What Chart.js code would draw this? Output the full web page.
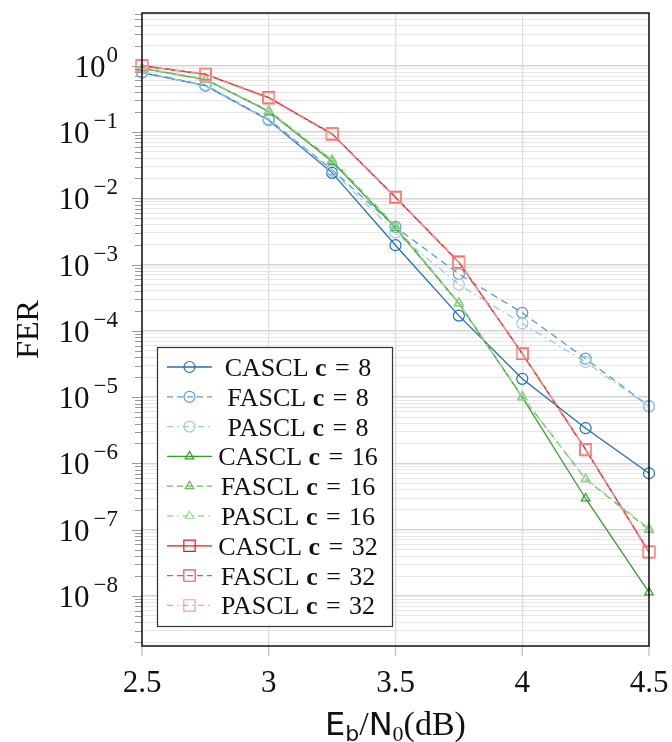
<!DOCTYPE html>
<html>
<head>
<meta charset="utf-8">
<script src="https://cdn.jsdelivr.net/npm/chart.js@4.4.1/dist/chart.umd.min.js"></script>
<style>
  html, body { margin: 0; padding: 0; background: #fff; }
  #wrap { position: relative; width: 672px; height: 742px; }
</style>
</head>
<body>
<div id="wrap"><canvas id="ferChart"></canvas></div>
<script>
// Eb/N0 sweep (dB)
const ebn0 = [2.5, 2.75, 3, 3.25, 3.5, 3.75, 4, 4.25, 4.5];

// frame error rates, list size c = 8
const cascl8 = [0.79, 0.50, 0.151, 0.0242, 0.00196, 0.00017, 1.89e-5, 3.4e-6, 7.1e-7];
const fascl8 = [0.80, 0.51, 0.155, 0.027, 0.0037, 0.00072, 1.87e-4, 3.8e-5, 7.3e-6];
const pascl8 = [0.80, 0.50, 0.152, 0.026, 0.00305, 0.0005, 1.29e-4, 3.4e-5, 7.2e-6];

// c = 16
const cascl16 = [0.91, 0.62, 0.205, 0.036, 0.0036, 0.00026, 1.0e-5, 2.96e-7, 1.13e-8];
const fascl16 = [0.92, 0.63, 0.21, 0.038, 0.0038, 0.000265, 1.02e-5, 5.8e-7, 1.0e-7];
const pascl16 = [0.92, 0.63, 0.21, 0.0376, 0.0037, 0.00026, 1.0e-5, 5.9e-7, 1.05e-7];

// c = 32
const cascl32 = [1.0, 0.74, 0.33, 0.093, 0.0103, 0.00108, 4.56e-5, 1.63e-6, 4.6e-8];
const fascl32 = [1.0, 0.75, 0.33, 0.094, 0.0105, 0.0011, 4.5e-5, 1.6e-6, 4.6e-8];
const pascl32 = [1.0, 0.74, 0.32, 0.092, 0.0102, 0.00107, 4.6e-5, 1.62e-6, 4.7e-8];

const xTicks = [2.5, 3, 3.5, 4, 4.5];
const yExponents = [0, -1, -2, -3, -4, -5, -6, -7, -8];

const serif = '"Liberation Serif", "DejaVu Serif", serif';
const sans = '"DejaVu Sans", "Liberation Sans", sans-serif';

const solid = [];
const dashed = [7, 5];
const dashDot = [7, 4, 1.5, 4];

const series = [
  { name: "CASCL", c: "8",  values: cascl8,  color: "#2171b5", dash: solid,   marker: "circle",   r: 5.5 },
  { name: "FASCL", c: "8",  values: fascl8,  color: "#5b9bd5", dash: dashed,  marker: "circle",   r: 5.5 },
  { name: "PASCL", c: "8",  values: pascl8,  color: "#9ecae1", dash: dashDot, marker: "circle",   r: 5.5 },
  { name: "CASCL", c: "16", values: cascl16, color: "#33a02c", dash: solid,   marker: "triangle", r: 5 },
  { name: "FASCL", c: "16", values: fascl16, color: "#66bb5e", dash: dashed,  marker: "triangle", r: 5 },
  { name: "PASCL", c: "16", values: pascl16, color: "#a1d99b", dash: dashDot, marker: "triangle", r: 5 },
  { name: "CASCL", c: "32", values: cascl32, color: "#e31a1c", dash: solid,   marker: "rect",     r: 8 },
  { name: "FASCL", c: "32", values: fascl32, color: "#f0504a", dash: dashed,  marker: "rect",     r: 8 },
  { name: "PASCL", c: "32", values: pascl32, color: "#fb9a99", dash: dashDot, marker: "rect",     r: 8 },
];

const isDecade = v => Math.abs(Math.log10(v) - Math.round(Math.log10(v))) < 1e-9;

// ticks, labels, frame and legend drawn on top of the chart area
const decor = {
  id: "decor",
  afterDraw(chart) {
    const { ctx, chartArea: a, scales } = chart;
    const xs = scales.x, ys = scales.y;
    ctx.save();

    // outward tick marks
    ctx.lineWidth = 1;
    ctx.strokeStyle = "#999";
    ys.ticks.forEach(t => {
      const y = Math.round(ys.getPixelForValue(t.value)) + 0.5;
      const len = isDecade(t.value) ? 10 : 7;
      ctx.beginPath();
      ctx.moveTo(a.left - len, y);
      ctx.lineTo(a.left, y);
      ctx.stroke();
    });
    ctx.strokeStyle = "#c8c8c8";
    ctx.lineWidth = 1.5;
    xTicks.forEach(v => {
      const x = xs.getPixelForValue(v);
      ctx.beginPath();
      ctx.moveTo(x, a.bottom);
      ctx.lineTo(x, a.bottom + 10);
      ctx.stroke();
    });

    // frame
    ctx.strokeStyle = "#000";
    ctx.lineWidth = 1.4;
    ctx.strokeRect(a.left, a.top, a.right - a.left, a.bottom - a.top);

    // x tick labels
    ctx.fillStyle = "#111";
    ctx.font = "31px " + serif;
    ctx.textAlign = "center";
    ctx.textBaseline = "alphabetic";
    xTicks.forEach(v => {
      ctx.fillText(String(v), xs.getPixelForValue(v), a.bottom + 46);
    });

    // y tick labels: 10 with raised exponent
    yExponents.forEach(e => {
      const y = ys.getPixelForValue(Math.pow(10, e));
      const exp = e === 0 ? "0" : "\u2212" + Math.abs(e);
      ctx.font = "23px " + serif;
      const ew = ctx.measureText(exp).width + (e === 0 ? 0 : 3);
      const right = a.left - 24;
      ctx.textAlign = "right";
      ctx.fillText(exp, right, y - 4);
      ctx.font = "31px " + serif;
      ctx.fillText("10", right - ew - 1, y + 11);
    });

    // axis titles
    ctx.save();
    ctx.translate(27, (a.top + a.bottom) / 2);
    ctx.rotate(-Math.PI / 2);
    ctx.textAlign = "center";
    ctx.font = "32px " + serif;
    ctx.fillText("FER", 0, 11);
    ctx.restore();

    const parts = [
      { t: "E", f: "32px " + sans, dy: 0 },
      { t: "b", f: "22px " + sans, dy: 6 },
      { t: "/", f: "34px " + serif, dy: 0 },
      { t: "N", f: "32px " + sans, dy: 0 },
      { t: "0", f: "22px " + serif, dy: 6 },
      { t: "(dB)", f: "34px " + serif, dy: 0 },
    ];
    let total = 0;
    parts.forEach(p => { ctx.font = p.f; p.w = ctx.measureText(p.t).width; total += p.w; });
    let px = (a.left + a.right) / 2 - total / 2;
    ctx.textAlign = "left";
    parts.forEach(p => {
      ctx.font = p.f;
      ctx.fillText(p.t, px, a.bottom + 89 + p.dy);
      px += p.w;
    });

    // legend
    const box = { x: 157, y: 347, w: 235, h: 279 };
    ctx.fillStyle = "#fff";
    ctx.fillRect(box.x, box.y, box.w, box.h);
    ctx.strokeStyle = "#333";
    ctx.lineWidth = 1.2;
    ctx.strokeRect(box.x + 0.5, box.y + 0.5, box.w, box.h);

    series.forEach((s, i) => {
      const cy = box.y + 20 + i * 29.8;
      ctx.strokeStyle = s.color;
      ctx.lineWidth = 1.3;
      ctx.setLineDash(s.dash.length ? [6, 4, ...(s.dash.length > 2 ? [1.5, 4] : [])] : []);
      ctx.beginPath();
      ctx.moveTo(box.x + 10, cy);
      ctx.lineTo(box.x + 55, cy);
      ctx.stroke();
      ctx.setLineDash([]);
      ctx.fillStyle = "rgba(0,0,0,0)";
      ctx.lineWidth = 1.2;
      Chart.helpers.drawPoint(ctx, { pointStyle: s.marker, rotation: 0, radius: s.r, borderWidth: 1.2 }, box.x + 32.5, cy);

      // label: "NAME c = N" with bold c
      const segs = [
        { t: s.name + " ", f: "26px " + serif },
        { t: "c", f: "bold 26px " + serif },
        { t: " = ", f: "26px " + serif },
        { t: s.c, f: "26px " + serif },
      ];
      let w = 0;
      segs.forEach(g => { ctx.font = g.f; g.w = ctx.measureText(g.t).width; w += g.w; });
      w += 4;
      let tx = box.x + 141 - w / 2;
      ctx.fillStyle = "#111";
      ctx.textAlign = "left";
      segs.forEach((g, k) => {
        ctx.font = g.f;
        ctx.fillText(g.t, tx, cy + 9);
        tx += g.w + (k === 1 || k === 2 ? 2 : 0);
      });
    });

    ctx.restore();
  }
};

const yTickValues = [];
for (let e = -9; e <= 0; e++) {
  for (let m = 1; m <= 9; m++) yTickValues.push(m * Math.pow(10, e));
}

new Chart(document.getElementById("ferChart"), {
  type: "line",
  data: {
    datasets: series.map((s, i) => ({
      label: s.name + " c = " + s.c,
      data: ebn0.map((x, k) => ({ x, y: s.values[k] })),
      borderColor: s.color,
      backgroundColor: "rgba(0,0,0,0)",
      borderWidth: 1.3,
      borderDash: s.dash,
      pointStyle: s.marker,
      pointRadius: s.r,
      pointBorderWidth: 1.2,
      pointBorderColor: s.color,
      pointBackgroundColor: "rgba(0,0,0,0)",
      tension: 0,
      clip: false,
      order: series.length - 1 - i,
    })),
  },
  options: {
    responsive: true,
    maintainAspectRatio: false,
    animation: false,
    layout: { padding: { top: 13, right: 23, left: 0, bottom: 0 } },
    plugins: { legend: { display: false }, tooltip: { enabled: false } },
    scales: {
      x: {
        type: "linear",
        min: 2.5,
        max: 4.5,
        ticks: { stepSize: 0.5, display: false },
        grid: { color: "#dcdcdc", lineWidth: 1.3, drawTicks: false },
        border: { display: false },
        afterFit: s => { s.height = 96; },
      },
      y: {
        type: "logarithmic",
        min: 1.76e-9,
        max: 6.25,
        ticks: { display: false },
        afterBuildTicks: s => {
          s.ticks = yTickValues.filter(v => v >= s.min && v <= s.max).map(v => ({ value: v, major: isDecade(v) }));
        },
        grid: {
          color: c => (c.tick && isDecade(c.tick.value) ? "#d4d4d4" : "#e6e6e6"),
          lineWidth: c => (c.tick && isDecade(c.tick.value) ? 1.4 : 1),
          drawTicks: false,
        },
        border: { display: false },
        afterFit: s => { s.width = 142; },
      },
    },
  },
  plugins: [decor],
});
</script>
</body>
</html>
